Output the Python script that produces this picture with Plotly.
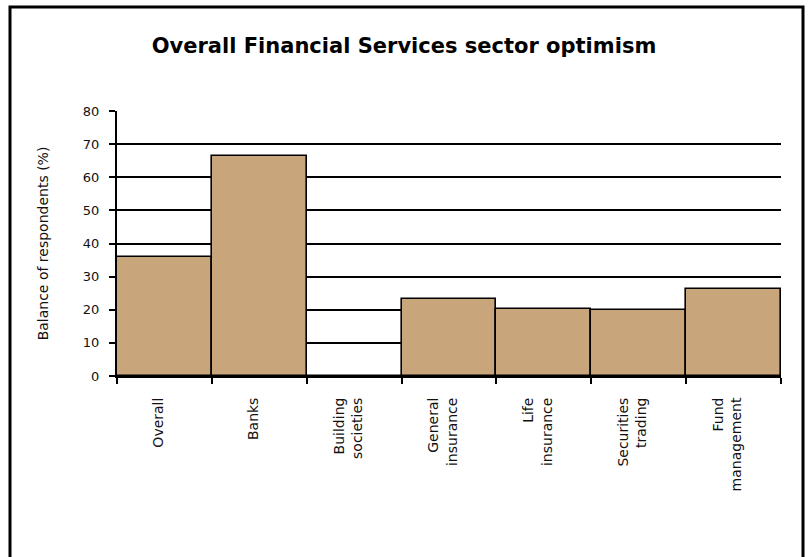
import plotly.graph_objects as go

categories = ["Overall", "Banks", "Building<br>societies", "General<br>insurance",
              "Life<br>insurance", "Securities<br>trading", "Fund<br>management"]
values = [36, 66.5, 0, 23.3, 20.2, 19.8, 26.3]
y_ticks = [0, 10, 20, 30, 40, 50, 60, 70, 80]

fig = go.Figure()
fig.add_trace(go.Bar(
    x=categories, y=values,
    marker=dict(color="#C8A57B", line=dict(color="black", width=1.6)),
    hoverinfo="skip",
))

W, H = 809, 557
L, R, T, B = 117, 28, 111, 181
pw = W - L - R
ph = H - T - B

fig.update_layout(
    width=W, height=H,
    margin=dict(l=L, r=R, t=T, b=B, autoexpand=False),
    paper_bgcolor="white", plot_bgcolor="white",
    bargap=0,
    showlegend=False,
    title=dict(text="<b>Overall Financial Services sector optimism</b>",
               x=404 / W, xanchor="center", xref="container",
               y=1 - 46 / H, yanchor="middle", yref="container",
               font=dict(family="DejaVu Sans", size=21, color="black")),
    font=dict(family="DejaVu Sans", color="black"),
    xaxis=dict(
        tickson="boundaries", ticks="outside", ticklen=6, tickwidth=1.5, tickcolor="black",
        tickangle=-90, tickfont=dict(family="DejaVu Sans", size=14, color="#111111"),
        showline=True, linecolor="black", linewidth=2, showgrid=False,
        ticklabelstandoff=14, ticklabelshift=-6,
    ),
    yaxis=dict(
        range=[0, 80], tickvals=y_ticks, ticks="outside", ticklen=6, tickwidth=1.5,
        tickcolor="black", tickfont=dict(family="DejaVu Sans", size=13, color="#111111"),
        showline=True, linecolor="black", linewidth=2,
        showgrid=True, gridcolor="black", gridwidth=1.5, zeroline=False,
        ticklabelstandoff=7,
        title=dict(text="Balance of respondents (%)", standoff=31,
                   font=dict(family="DejaVu Sans", size=14, color="#111111")),
    ),
    shapes=[dict(type="rect", xref="paper", yref="paper",
                 x0=(10 - L) / pw, x1=(803 - L) / pw,
                 y0=(376 - 620) / ph, y1=(376 - 7) / ph,
                 line=dict(color="black", width=3), layer="below")],
)

fig.write_html("out.html")
